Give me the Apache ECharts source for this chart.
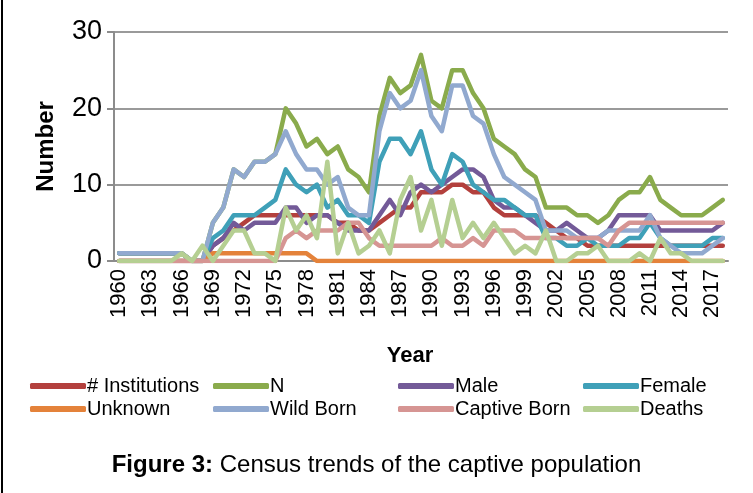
<!DOCTYPE html>
<html>
<head>
<meta charset="utf-8">
<script src="https://cdn.jsdelivr.net/npm/echarts@6/dist/echarts.min.js"></script>
<style>
  html, body { margin: 0; padding: 0; background: #fff; }
  #chart { width: 753px; height: 493px; }
</style>
</head>
<body>
<div id="chart"></div>
<script>
// years 1960..2018
const years = [];
for (let y = 1960; y <= 2018; y++) years.push(String(y));

const institutions = [1,1,1,1,1,1,1,0,0,2,3,4,5,6,6,6,6,6,6,6,6,5,5,4,4,5,6,7,7,9,9,9,10,10,9,9,7,6,6,6,6,5,4,3,3,2,2,2,2,2,2,2,2,2,2,2,2,2,2];
const totalN = [1,1,1,1,1,1,1,0,0,5,7,12,11,13,13,14,20,18,15,16,14,15,12,11,9,19,24,22,23,27,21,20,25,25,22,20,16,15,14,12,11,7,7,7,6,6,5,6,8,9,9,11,8,7,6,6,6,7,8];
const male = [0,0,0,0,0,0,0,0,0,2,3,5,4,5,5,5,7,7,5,6,6,5,4,4,4,6,8,6,9,10,9,10,11,12,12,11,8,7,7,6,5,4,4,5,4,3,3,4,6,6,6,6,4,4,4,4,4,4,5];
const female = [1,1,1,1,1,1,1,0,0,3,4,6,6,6,7,8,12,10,9,10,7,8,6,6,5,13,16,16,14,17,12,10,14,13,10,9,8,8,7,6,6,3,3,2,2,3,2,2,2,3,3,5,3,2,2,2,2,3,3];
const unknown = [0,0,0,0,0,0,0,0,0,1,1,1,1,1,1,1,1,1,1,0,0,0,0,0,0,0,0,0,0,0,0,0,0,0,0,0,0,0,0,0,0,0,0,0,0,0,0,0,0,0,0,0,0,0,0,0,0,0,0];
const wildBorn = [1,1,1,1,1,1,1,0,0,5,7,12,11,13,13,14,17,14,12,12,10,11,7,6,6,17,22,20,21,25,19,17,23,23,19,18,14,11,10,9,8,4,4,4,3,3,3,4,4,4,4,6,3,2,1,1,1,2,3];
const captiveBorn = [0,0,0,0,0,0,0,0,0,0,0,0,0,0,0,0,3,4,3,4,4,4,5,5,3,2,2,2,2,2,2,3,2,2,3,2,4,4,4,3,3,3,3,3,3,3,3,2,4,5,5,5,5,5,5,5,5,5,5];
const deaths = [0,0,0,0,0,0,1,0,2,0,2,4,4,1,1,0,7,4,6,3,13,1,5,1,2,4,1,8,11,4,8,2,8,3,5,3,5,3,1,2,1,4,0,0,1,1,2,0,0,0,1,0,3,1,1,0,0,0,0];

const seriesNames = ['# Institutions', 'N', 'Male', 'Female', 'Unknown', 'Wild Born', 'Captive Born', 'Deaths'];
const seriesData = [institutions, totalN, male, female, unknown, wildBorn, captiveBorn, deaths];
const colors = ['#B3403D', '#8AAB4C', '#735A98', '#3FA0B8', '#E4823A', '#91A9CF', '#D69593', '#B5CF92'];

const labelFont = "'Liberation Sans', Arial, sans-serif";

const chart = echarts.init(document.getElementById('chart'));

const legendCols = [25, 208, 393, 578];
const legendRows = [371, 394];
const legends = seriesNames.map((name, i) => ({
  data: [name],
  left: legendCols[i % 4],
  top: legendRows[Math.floor(i / 4)],
  icon: 'roundRect',
  itemWidth: 56,
  itemHeight: 6,
  textStyle: { fontFamily: labelFont, fontSize: 20, color: '#000', padding: [0, 0, 0, -4] },
  selectedMode: false
}));

chart.setOption({
  animation: false,
  color: colors,
  title: {
    text: '{b|Figure 3:} Census trends of the captive population',
    left: 'center',
    top: 448,
    textStyle: {
      fontFamily: labelFont,
      fontSize: 24,
      fontWeight: 'normal',
      color: '#000',
      rich: { b: { fontFamily: labelFont, fontSize: 24, fontWeight: 'bold', color: '#000' } }
    }
  },
  legend: legends,
  grid: { left: 114, right: 25, top: 32, height: 229 },
  xAxis: {
    type: 'category',
    data: years,
    boundaryGap: true,
    name: 'Year',
    nameLocation: 'middle',
    nameGap: 84,
    nameTextStyle: { fontFamily: labelFont, fontSize: 22, fontWeight: 'bold', color: '#000', padding: [0, 22, 0, 0] },
    axisLine: { lineStyle: { color: '#8c8c8c', width: 2 } },
    axisTick: { interval: 0, length: 5, lineStyle: { color: '#8c8c8c', width: 1 } },
    axisLabel: { interval: 2, rotate: 90, fontFamily: labelFont, fontSize: 22, color: '#000', margin: 8 }
  },
  yAxis: {
    type: 'value',
    min: 0,
    max: 30,
    interval: 10,
    name: 'Number',
    nameLocation: 'middle',
    nameGap: 56,
    nameTextStyle: { fontFamily: labelFont, fontSize: 24, fontWeight: 'bold', color: '#000' },
    axisLine: { show: true, lineStyle: { color: '#8c8c8c', width: 2 } },
    axisTick: { show: true, length: 7, lineStyle: { color: '#8c8c8c', width: 2 } },
    axisLabel: { fontFamily: labelFont, fontSize: 27, color: '#000', margin: 12 },
    splitLine: { lineStyle: { color: '#9a9a9a', width: 2 } }
  },
  graphic: [
    { type: 'line', shape: { x1: 2, y1: 0, x2: 2, y2: 493 }, style: { stroke: '#000', lineWidth: 2 } }
  ],
  series: seriesNames.map((name, i) => ({
    name: name,
    type: 'line',
    data: seriesData[i],
    symbol: 'none',
    lineStyle: { width: 4.5, join: 'round', cap: 'round' }
  }))
});
</script>
</body>
</html>
